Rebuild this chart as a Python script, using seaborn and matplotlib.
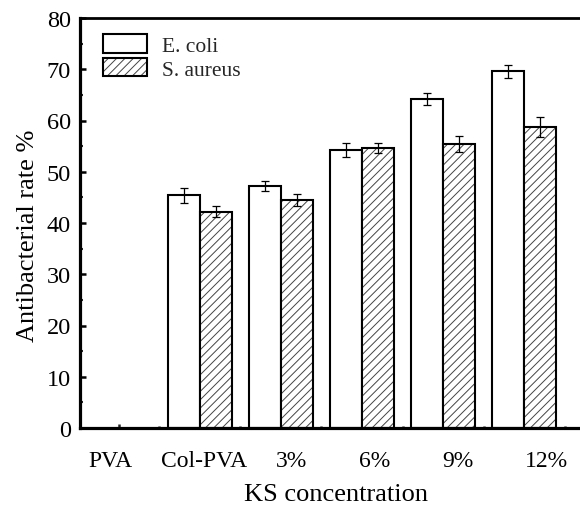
import numpy as np
import pandas as pd
import matplotlib
matplotlib.use("Agg")
import matplotlib.pyplot as plt
import seaborn as sns
from matplotlib.patches import Patch
from matplotlib.colors import to_rgba
from matplotlib.ticker import MultipleLocator, FixedLocator
import matplotlib.transforms as mtransforms

# ---- data ----
categories = ["PVA", "Col-PVA", "3%", "6%", "9%", "12%"]
ecoli = [np.nan, 45.4, 47.2, 54.3, 64.2, 69.6]
ecoli_err = [np.nan, 1.5, 1.0, 1.4, 1.1, 1.3]
saureus = [np.nan, 42.2, 44.5, 54.6, 55.4, 58.7]
saureus_err = [np.nan, 1.1, 1.2, 1.0, 1.6, 2.0]
series = ["E. coli", "S. aureus"]

df = pd.DataFrame({
    "cat": categories * 2,
    "series": [series[0]] * len(categories) + [series[1]] * len(categories),
    "val": ecoli + saureus,
    "err": ecoli_err + saureus_err,
})

sns.set_theme(style="ticks")
plt.rcParams["font.family"] = ["Liberation Serif", "DejaVu Serif"]
plt.rcParams["hatch.linewidth"] = 0.7

fig = plt.figure(figsize=(5.8, 5.06), dpi=100)
ax = fig.add_axes([80 / 580, 77 / 506, 500 / 580, 410 / 506])

sns.barplot(data=df.dropna(subset=["val"]), x="cat", y="val", hue="series",
            order=categories, hue_order=series,
            palette={series[0]: "white", series[1]: "white"},
            edgecolor="black", linewidth=1.5, width=0.8, gap=0,
            errorbar=None, legend=False, ax=ax)

hatch_col = "#444444"
bar_containers = list(ax.containers)
for i, cont in enumerate(bar_containers):
    sub = df[df["series"] == series[i]].dropna(subset=["val"])
    for bar in cont.patches:
        bar.set_edgecolor("black")
        if i == 1:
            bar.set_hatch("////")
            if hasattr(bar, "set_hatchcolor"):
                bar.set_hatchcolor(hatch_col)
            else:
                bar._hatch_color = to_rgba(hatch_col)
    xs = [b.get_x() + b.get_width() / 2 for b in cont.patches]
    hs = [b.get_height() for b in cont.patches]
    ax.errorbar(xs, hs, yerr=sub["err"].values, fmt="none", ecolor="black",
                elinewidth=0.9, capsize=3.2, capthick=0.9, zorder=5)

ax.set_xlim(-0.48, 5.69)
ax.set_ylim(0, 80)
ax.yaxis.set_major_locator(MultipleLocator(10))
ax.yaxis.set_minor_locator(MultipleLocator(5))
ax.xaxis.set_major_locator(FixedLocator(range(len(categories))))
ax.xaxis.set_minor_locator(FixedLocator([i + 0.5 for i in range(len(categories))]))
ax.set_xticklabels([""] * len(categories))

ax.tick_params(axis="y", which="major", direction="in", length=4, width=1.8,
               labelsize=17.5, pad=6.5, colors="black")
ax.tick_params(axis="y", which="minor", direction="in", length=2.5, width=1.5)
ax.tick_params(axis="x", which="major", direction="in", length=3, width=1.8)
ax.tick_params(axis="x", which="minor", direction="in", length=1.8, width=1.8)

for s in ["left", "bottom"]:
    ax.spines[s].set_linewidth(2.3)
    ax.spines[s].set_color("black")
ax.spines["top"].set_linewidth(2.0)
ax.spines["top"].set_color("black")
ax.spines["right"].set_visible(False)

label_shift = [-0.105, 0.056, 0.136, 0.154, 0.18, 0.28]
trans = mtransforms.blended_transform_factory(ax.transData, ax.transAxes)
for i, c in enumerate(categories):
    ax.text(i + label_shift[i], -38 / 410, c, transform=trans, ha="center",
            va="baseline", fontsize=17, color="black")

ax.set_xlabel("KS concentration", fontsize=19, color="black")
ax.xaxis.set_label_coords(0.512, -0.134)
ax.set_ylabel("Antibacterial rate %", fontsize=19, color="black")
ax.yaxis.set_label_coords(-0.082, 0.471)

handles = [Patch(facecolor="white", edgecolor="black", linewidth=1.5),
           Patch(facecolor="white", edgecolor="black", linewidth=1.5, hatch="////")]
try:
    handles[1].set_hatchcolor(hatch_col)
except Exception:
    handles[1]._hatch_color = to_rgba(hatch_col)
leg = ax.legend(handles, series, loc="upper left", bbox_to_anchor=(0.046, 0.96),
                frameon=False, fontsize=15.5, handlelength=2.05, handleheight=0.92,
                handletextpad=0.7, labelspacing=0.1, borderpad=0, borderaxespad=0)

fig.savefig("out.png", dpi=100)
